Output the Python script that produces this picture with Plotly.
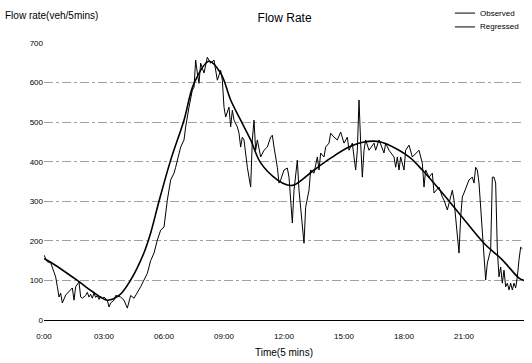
import plotly.graph_objects as go

# Time index in 5-minute intervals (0 = 00:00, 288 = 24:00)
obs_t = [0, 2, 4, 5, 7, 8, 9, 10, 11, 13, 16, 17, 18, 19, 21, 22, 23,
         25, 26, 27, 28, 29, 30, 31, 32, 33, 34, 35, 36, 38, 39, 40, 42, 43,
         46, 48, 50, 51, 52, 54, 56, 58, 60, 62, 64, 66, 68, 70, 72, 74, 76,
         78, 79, 82, 84, 85, 87, 89, 90, 91, 92, 93, 94, 96, 98, 100, 102,
         104, 106, 107, 108, 109, 111, 112, 113, 114, 116, 117, 118, 119, 120,
         122, 124, 125, 126, 127, 128, 130, 132, 134, 136, 137, 138, 140, 141,
         142, 144, 146, 147, 148, 149, 150, 152, 153, 154, 155, 156, 157, 158,
         159, 160, 162, 164, 165, 166, 168, 169, 171, 172, 174, 176, 178, 180,
         182, 183, 185, 186, 187, 188, 189, 190, 191, 192, 193, 195, 198, 199,
         201, 204, 205, 207, 210, 211, 212, 213, 214, 216, 217, 219, 221, 225,
         227, 228, 229, 231, 233, 234, 237, 239, 240, 242, 243, 245, 246, 248,
         249, 250, 251, 252, 255, 257, 258, 259, 260, 261, 263, 264, 265, 266,
         267, 268, 269, 270, 271, 272, 273, 274, 275, 276, 277, 278, 279, 280,
         281, 282, 283, 284, 285, 286, 287]
obs_v = [164, 147, 145, 134, 109, 84, 58, 68, 43, 63, 76, 81, 50, 84, 96, 58, 55,
         62, 70, 58, 65, 55, 68, 57, 62, 52, 60, 55, 58, 50, 33, 43, 50, 62,
         58, 50, 30, 50, 62, 55, 68, 84, 101, 118, 150, 169, 202, 227, 235, 303, 354,
         371, 386, 437, 455, 488, 538, 581, 588, 657, 624, 598, 649, 624, 664, 649, 657,
         606, 631, 606, 538, 513, 538, 488, 530, 505, 488, 472, 437, 462, 455,
         386, 336, 455, 505, 429, 455, 412, 429, 437, 462, 467, 437, 386, 346,
         354, 379, 384, 361, 295, 245, 328, 404, 328, 285, 227, 194, 285, 303,
         328, 379, 371, 412, 379, 422, 412, 437, 447, 472, 462, 455, 475, 447,
         462, 429, 447, 412, 379, 429, 556, 447, 361, 429, 455, 429, 447, 429,
         455, 422, 447, 429, 412, 386, 412, 379, 412, 379, 429, 442, 412, 429,
         396, 336, 379, 361, 371, 321, 336, 311, 303, 278, 295, 328, 303, 220,
         169, 260, 311, 321, 354, 361, 346, 386, 379, 346, 220, 152, 101, 144,
         159, 177, 361, 361, 346, 177, 109, 134, 93, 126, 84, 93, 76, 93,
         76, 93, 81, 109, 152, 184, 180]

reg_t = [0, 4, 20, 29, 38, 45, 52, 60, 64, 69, 76, 84, 90, 99, 106, 112, 118,
         124, 130, 140, 146, 150, 162, 172, 183, 192, 202, 213, 220, 227, 239,
         249, 264, 275, 285, 288]
reg_v = [155, 146, 100, 72, 50, 62, 101, 170, 220, 300, 404, 505, 598, 654, 624,
         556, 505, 455, 397, 354, 341, 341, 379, 409, 437, 450, 450, 429, 409, 379,
         321, 270, 194, 152, 106, 100]

tick_vals = [0, 36, 72, 108, 144, 180, 216, 252]
tick_text = ["0:00", "03:00", "06:00", "09:00", "12:00", "15:00", "18:00", "21:00"]
y_ticks = [0, 100, 200, 300, 400, 500, 600, 700]

series_names = ["Observed", "Regressed"]
series_widths = [1, 1.6]

FONT = "Liberation Sans, Arial, sans-serif"

fig = go.Figure()
fig.add_trace(go.Scatter(x=obs_t, y=obs_v, mode="lines", name=series_names[0],
                         line=dict(color="black", width=series_widths[0])))
fig.add_trace(go.Scatter(x=reg_t, y=reg_v, mode="lines", name=series_names[1],
                         line=dict(color="black", width=series_widths[1],
                                   shape="spline", smoothing=1.0)))

# Compact key in the top-right corner: short line sample + label per series
key_shapes = []
key_notes = []
for i, (name, w) in enumerate(zip(series_names, series_widths)):
    ky = 1.108 - i * 0.05
    key_shapes.append(dict(type="line", xref="paper", yref="paper",
                           x0=0.856, x1=0.898, y0=ky, y1=ky,
                           line=dict(color="black", width=1)))
    key_notes.append(dict(text=name, xref="paper", yref="paper", x=0.904, y=ky,
                          xanchor="left", yanchor="middle", showarrow=False,
                          font=dict(size=8, family=FONT)))

fig.update_layout(
    width=532, height=363,
    margin=dict(l=44, r=8, t=43, b=43),
    paper_bgcolor="white", plot_bgcolor="white",
    font=dict(family=FONT, size=8, color="black"),
    title=dict(text="Flow Rate", x=0.535, xanchor="center", y=0.95, yanchor="middle",
               font=dict(size=12, family=FONT)),
    showlegend=False,
    shapes=key_shapes,
    annotations=[
        dict(text="Flow rate(veh/5mins)", xref="paper", yref="paper", x=-0.085, y=1.098,
             xanchor="left", yanchor="middle", showarrow=False, font=dict(size=10, family=FONT)),
        dict(text="Time(5 mins)", xref="paper", yref="paper", x=0.5, y=-0.118,
             xanchor="center", yanchor="middle", showarrow=False, font=dict(size=10, family=FONT)),
    ] + key_notes,
)
fig.update_xaxes(range=[0, 288], tickvals=tick_vals, ticktext=tick_text,
                 showgrid=False, zeroline=False, showline=True, linecolor="black",
                 linewidth=1, ticks="", tickfont=dict(size=8), ticklabelstandoff=8)
fig.update_yaxes(range=[0, 700], tickvals=y_ticks, showgrid=True,
                 gridcolor="#a0a0a0", griddash="dashdot", gridwidth=1,
                 zeroline=False, showline=False, ticks="", tickfont=dict(size=8))

fig.write_html("out.html")
